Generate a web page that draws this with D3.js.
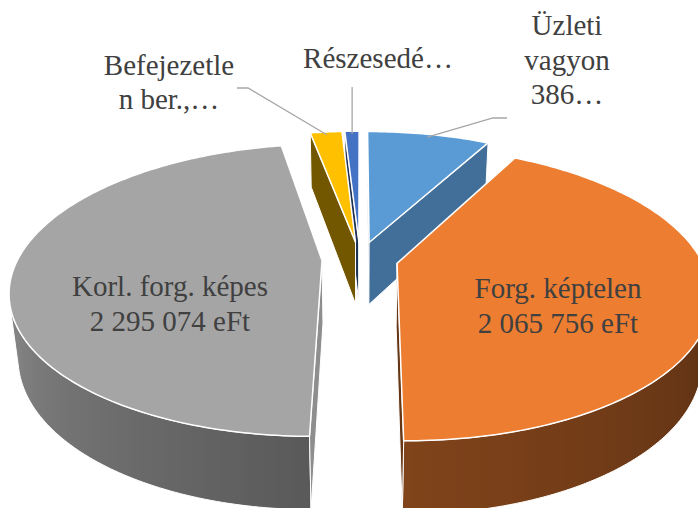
<!DOCTYPE html>
<html><head><meta charset="utf-8">
<script src="https://cdn.jsdelivr.net/npm/d3@7"></script>
<style>html,body{margin:0;padding:0;background:#fff;} svg{display:block;}</style>
</head><body><svg id="chart" width="698" height="508"></svg>
<script>
// ---- data ----
const categories = ["Üzleti vagyon", "Forg. képtelen", "Korl. forg. képes", "Befejezetlen ber.,…", "Részesedés"];
const values = [386000, 2065756, 2295074, 100000, 45000];
const labelLines = [["Üzleti", "vagyon", "386…"], ["Forg. képtelen", "2 065 756 eFt"], ["Korl. forg. képes", "2 295 074 eFt"], ["Befejezetle", "n ber.,…"], ["Részesedé…"]];
const colors = ["#5B9BD5", "#ED7D31", "#A5A5A5", "#FFC000", "#4472C4"];

// ---- 3D projection setup ----
const tilt = 27.3 * Math.PI / 180, S = Math.sin(tilt), C = Math.cos(tilt);
const camDist = 4.39, focal = 1335, cx = 360, cy = 259;
const depth = 0.239, explode = 0.125;
const cam = [0, camDist * S, camDist * C];
function proj(X, Y, Z) {
  const u = Y * C - Z * S, w = Z * C + Y * S, dd = camDist - w;
  return [cx + focal * X / dd, cy - focal * u / dd];
}
function depthOf(X, Y, Z) { return Z * C + Y * S; }

const svg = d3.select("#chart");
const defs = svg.append("defs");
const pie = d3.pie().sort(null).value(d => d).startAngle(0).endAngle(2 * Math.PI)(values);
const slices = pie.map((p, i) => {
  const mid = (p.startAngle + p.endAngle) / 2;
  return { i, a0: p.startAngle, a1: p.endAngle, mid, ex: explode * Math.sin(mid), ez: -explode * Math.cos(mid) };
});
function world(s, r, a, Y) { return [s.ex + r * Math.sin(a), Y, s.ez - r * Math.cos(a)]; }
function pt(s, r, a, Y) { return proj(...world(s, r, a, Y)); }
function visible(n, P) {
  return n[0] * (cam[0] - P[0]) + n[1] * (cam[1] - P[1]) + n[2] * (cam[2] - P[2]) > 0;
}
const deg = a => ((a * 180 / Math.PI) % 360 + 360) % 360;
const wallShade = d3.scaleLinear().domain([90, 180, 270, 360]).range([0.37, 0.54, 0.85, 0.9]).clamp(true);
const sideShade = d3.scaleLinear().domain([0, 90, 120, 270, 360]).range([0.9, 0.86, 0.71, 0.43, 0.6]).clamp(true);
function shade(col, b) { const c = d3.rgb(col); return d3.rgb(c.r * b, c.g * b, c.b * b).formatHex(); }
const line = d3.line();

// draw order: far slices first
const order = slices.slice().sort((a, b) => depthOf(...world(a, 0.5, a.mid, 0)) - depthOf(...world(b, 0.5, b.mid, 0)));

order.forEach(s => {
  const g = svg.append("g");
  const col = colors[s.i];
  const n = Math.max(2, Math.ceil((s.a1 - s.a0) / (1 * Math.PI / 180)));
  const angs = d3.range(n + 1).map(k => s.a0 + (s.a1 - s.a0) * k / n);
  // outer wall: collect visible segments
  const vis = [];
  for (let k = 0; k < n; k++) {
    const am = (angs[k] + angs[k + 1]) / 2;
    const nrm = [Math.sin(am), 0, -Math.cos(am)];
    if (visible(nrm, world(s, 1, am, -depth / 2))) vis.push(k);
  }
  if (vis.length) {
    const k0 = d3.min(vis), k1 = d3.max(vis) + 1;
    const wa = angs.slice(k0, k1 + 1);
    const poly = wa.map(a => pt(s, 1, a, 0)).concat(wa.slice().reverse().map(a => pt(s, 1, a, -depth)));
    const stops = wa.map(a => ({ x: pt(s, 1, a, -depth)[0], c: shade(col, wallShade(deg(a))) }))
      .sort((p, q) => p.x - q.x);
    const x0 = stops[0].x, x1 = stops[stops.length - 1].x;
    const gid = "wall" + s.i;
    const grad = defs.append("linearGradient").attr("id", gid).attr("gradientUnits", "userSpaceOnUse")
      .attr("x1", x0).attr("x2", x1).attr("y1", 0).attr("y2", 0);
    stops.forEach(st => grad.append("stop").attr("offset", x1 > x0 ? (st.x - x0) / (x1 - x0) : 0).attr("stop-color", st.c));
    g.append("path").attr("d", line(poly) + "Z").attr("fill", `url(#${gid})`)
      .attr("stroke", "#fff").attr("stroke-width", 1).attr("stroke-linejoin", "round");
  }
  // radial faces
  [[s.a0, s.a0 - Math.PI / 2], [s.a1, s.a1 + Math.PI / 2]].forEach(([a, na]) => {
    const nrm = [Math.sin(na), 0, -Math.cos(na)];
    if (!visible(nrm, world(s, 0.5, a, -depth / 2))) return;
    const poly = [pt(s, 0, a, 0), pt(s, 1, a, 0), pt(s, 1, a, -depth), pt(s, 0, a, -depth)];
    g.append("path").attr("d", line(poly) + "Z").attr("fill", shade(col, sideShade(deg(na))))
      .attr("stroke", "#fff").attr("stroke-width", 1).attr("stroke-linejoin", "round");
  });
  // top face
  const top = [pt(s, 0, s.a0, 0)].concat(angs.map(a => pt(s, 1, a, 0)));
  g.append("path").attr("d", line(top) + "Z").attr("fill", col)
    .attr("stroke", "#fff").attr("stroke-width", 1.5).attr("stroke-linejoin", "round");
});

// ---- labels ----
const fontFam = "Liberation Serif, Times New Roman, serif";
const labelPos = [
  { x: 567, y: 35, lh: 34.5 },
  { x: 558, y: 298, lh: 35 },
  { x: 170, y: 296, lh: 34.5 },
  { x: 169, y: 75, lh: 33.5 },
  { x: 378, y: 68, lh: 34 }
];
const leaders = [
  { i: 0, via: [[493, 118], [507, 118]] },
  { i: 3, via: [[248, 88], [237, 88]] },
  { i: 4, via: null }
];
leaders.forEach(L => {
  const s = slices[L.i];
  const start = pt(s, 0.97, s.mid, 0);
  const pts = L.via ? [start].concat(L.via) : [start, [start[0], 87]];
  svg.append("path").attr("d", line(pts)).attr("fill", "none").attr("stroke", "#A6A6A6").attr("stroke-width", 1.3);
});
labelLines.forEach((lines, i) => {
  const p = labelPos[i];
  const t = svg.append("text").attr("text-anchor", "middle").style("font-family", fontFam)
    .attr("font-size", 29).attr("fill", "#404040");
  lines.forEach((ln, k) => t.append("tspan").attr("x", p.x).attr("y", p.y + k * p.lh).text(ln));
});
</script></body></html>
